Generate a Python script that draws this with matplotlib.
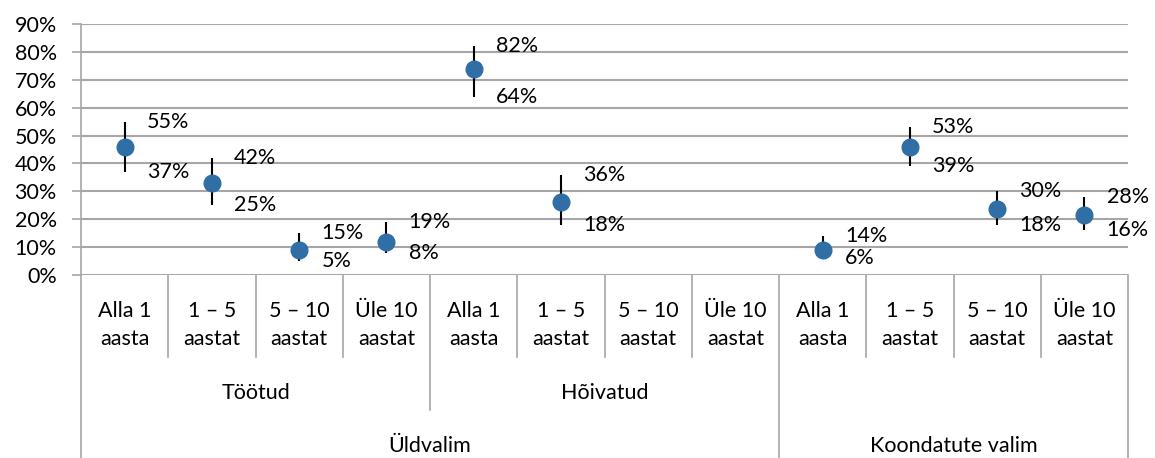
import numpy as np
import matplotlib
matplotlib.use("Agg")
import matplotlib.pyplot as plt
import matplotlib.transforms as mtransforms
from matplotlib.ticker import FuncFormatter, MultipleLocator

plt.rcParams["font.family"] = ["Lato", "DejaVu Sans"]

# leaf categories, then the two grouping levels under them
periods = ["Alla 1\naasta", "1 – 5\naastat", "5 – 10\naastat", "Üle 10\naastat"] * 3
groups = ["Töötud", "Hõivatud", ""]
samples = ["Üldvalim", "Koondatute valim"]
samples_span = [8, 4]

share = [46, 33, 9, 12, 74, 26, np.nan, np.nan, 9, 46, 23.5, 21.5]
low = [37, 25, 5, 8, 64, 18, np.nan, np.nan, 6, 39, 18, 16]
high = [55, 42, 15, 19, 82, 36, np.nan, np.nan, 14, 53, 30, 28]

W, H = 1155, 458
GRID = "#a6a6a6"
BLUE = "#2f6fa6"
FS = 15.5

fig = plt.figure(figsize=(W / 100, H / 100), dpi=100)
ax = fig.add_axes([81 / W, 1 - 275 / H, (1128 - 81) / W, (275 - 24) / H])

x = np.arange(len(periods)) + 0.5
y = np.array(share) / 100
lo = np.array(low) / 100
hi = np.array(high) / 100

ax.errorbar(x, y, yerr=[y - lo, hi - y], fmt="o", color=BLUE, ms=12,
            ecolor="black", elinewidth=1.5, capsize=0, zorder=3)

for xi, l, h in zip(x, low, high):
    if np.isnan(l):
        continue
    ax.annotate(f"{h:.0f}%", (xi, h / 100), xytext=(16, 0), textcoords="offset points",
                ha="left", va="center", fontsize=FS)
    ax.annotate(f"{l:.0f}%", (xi, l / 100), xytext=(16, 0), textcoords="offset points",
                ha="left", va="center", fontsize=FS)

ax.set_xlim(0, len(periods))
ax.set_ylim(0, 0.9)
ax.yaxis.set_major_locator(MultipleLocator(0.1))
ax.yaxis.set_major_formatter(FuncFormatter(lambda v, _: f"{v * 100:.0f}%"))
ax.grid(axis="y", color=GRID, lw=1.5)
ax.set_axisbelow(True)
ax.set_xticks([])
ax.tick_params(axis="y", length=6.5, width=1.2, color=GRID, pad=11, labelsize=FS)
for s in ["top", "right", "bottom"]:
    ax.spines[s].set_visible(False)
ax.spines["left"].set_color(GRID)
ax.spines["left"].set_linewidth(1.2)

# multi-level category axis below the plot
tr = mtransforms.blended_transform_factory(ax.transData, fig.transFigure)


def fy(px):
    return 1 - px / H


def vline(xv, bottom_px):
    ax.plot([xv, xv], [fy(275), fy(bottom_px)], color=GRID, lw=1.2,
            transform=tr, clip_on=False)


for i, lab in enumerate(periods):
    ax.text(i + 0.5, fy(325), lab, transform=tr, ha="center", va="center",
            fontsize=FS, linespacing=1.55)
    if i % 4:
        vline(i, 357)

for g, lab in enumerate(groups):
    ax.text(g * 4 + 2, fy(393), lab, transform=tr, ha="center", va="center", fontsize=FS)
vline(4, 410)

edge = 0
vline(0, H)
for lab, span in zip(samples, samples_span):
    ax.text(edge + span / 2, fy(446), lab, transform=tr, ha="center", va="center", fontsize=FS)
    edge += span
    vline(edge, H)

fig.savefig("out.png", dpi=100)
